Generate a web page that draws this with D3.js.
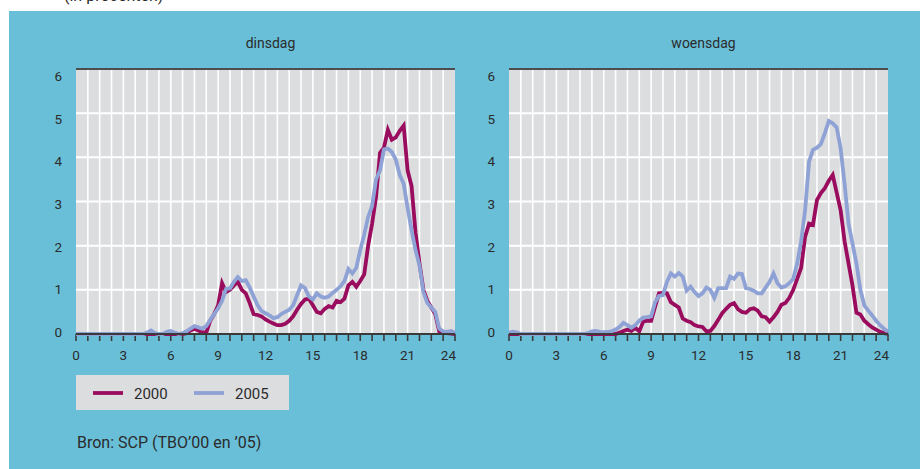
<!DOCTYPE html>
<html><head><meta charset="utf-8">
<script src="https://cdn.jsdelivr.net/npm/d3@7"></script>
<style>body{margin:0;background:#fff}svg{display:block}text{font-family:Roboto,"Liberation Sans",sans-serif;fill:#2b2b2b}</style>
</head><body>
<script>
// quarter-hour slots from 0:00 to 24:00
const slots = d3.range(0, 97).map(i => i / 4);
const xTickLabels = ["0","3","6","9","12","15","18","21","24"];
const yTickLabels = ["0","1","2","3","4","5","6"];
const panels = ["dinsdag","woensdag"];
const seriesNames = ["2000","2005"];

const dinsdag2000 = [0,0,0,0,0,0,0,0,0,0,0,0,0,0,0,0,0,0,0,0,0,0,0,0,0,0,0,0,
 0.02,0.08,0.12,0.08,0.04,0.03,0.3,0.45,0.65,1.15,0.95,1.0,
 1.1,1.18,1.0,0.92,0.7,0.45,0.43,0.4,0.33,0.28,0.24,0.2,
 0.2,0.23,0.3,0.4,0.55,0.68,0.78,0.8,0.65,0.5,0.47,0.57,
 0.63,0.6,0.75,0.72,0.8,1.1,1.18,1.07,1.2,1.35,2.0,2.5,
 3.1,4.1,4.22,4.62,4.4,4.45,4.6,4.72,3.7,3.35,2.3,1.6,
 1.0,0.75,0.6,0.45,0.06,0.03,0.02,0.01,0];
const dinsdag2005 = [0,0,0,0,0,0,0,0,0,0,0,0,0,0,0,0,0,0,
 0.03,0.08,0.02,0,0,0.05,0.07,0.03,0,0.02,
 0.06,0.12,0.18,0.15,0.12,0.18,0.32,0.45,0.58,0.75,1.02,1.03,
 1.18,1.29,1.2,1.22,1.05,0.85,0.65,0.52,0.47,0.42,0.36,0.38,
 0.45,0.5,0.55,0.65,0.88,1.1,1.04,0.85,0.78,0.92,0.85,0.82,
 0.85,0.93,1.0,1.08,1.2,1.47,1.37,1.5,1.9,2.25,2.65,2.9,
 3.5,3.7,4.18,4.2,4.12,3.95,3.6,3.4,2.85,2.35,1.9,1.55,
 0.95,0.7,0.6,0.5,0.12,0.06,0.05,0.07,0.03];
const woensdag2000 = [0,0,0,0,0,0,0,0,0,0,0,0,0,0,0,0,0,0,0,0,0,0,0,0,0,0,0,0,
 0.03,0.07,0.1,0.07,0.14,0.06,0.28,0.3,0.3,0.62,0.92,0.93,
 0.92,0.72,0.66,0.6,0.35,0.3,0.27,0.2,0.17,0.16,0.06,0.07,
 0.18,0.32,0.47,0.57,0.66,0.7,0.56,0.5,0.48,0.56,0.58,0.53,
 0.4,0.38,0.28,0.38,0.5,0.66,0.7,0.82,1.0,1.25,1.5,2.2,
 2.5,2.47,3.03,3.19,3.3,3.47,3.6,3.2,2.8,2.1,1.6,1.1,
 0.48,0.44,0.3,0.22,0.15,0.1,0.05,0.02,0];
const woensdag2005 = [0.03,0.05,0.04,0,0,0,0,0,0,0,0,0,0,0,0,0,0,0,0,0,
 0.02,0.06,0.07,0.05,0.04,0.05,0.06,0.1,
 0.16,0.25,0.2,0.14,0.2,0.3,0.37,0.38,0.4,0.72,0.86,0.88,
 1.18,1.37,1.3,1.38,1.3,0.98,1.07,0.95,0.86,0.92,1.05,1.0,
 0.82,1.04,1.04,1.04,1.3,1.25,1.37,1.36,1.04,1.02,0.98,0.92,
 0.92,1.05,1.18,1.37,1.15,1.05,1.08,1.15,1.25,1.6,2.1,2.8,
 3.9,4.17,4.22,4.3,4.55,4.82,4.77,4.68,4.2,3.4,2.5,2.05,
 1.6,1.0,0.65,0.53,0.42,0.3,0.2,0.12,0.05];

const panelData = [[dinsdag2000, dinsdag2005],[woensdag2000, woensdag2005]];
const colors = ["#990c5e","#8fa2d5"];

const svg = d3.select("body").append("svg").attr("width",920).attr("height",469);
svg.append("text").attr("x",64).attr("y",1).attr("font-size",16).text("(in procenten)");
svg.append("rect").attr("x",9).attr("y",11).attr("width",911).attr("height",458).attr("fill","#69bfd8");

const plotTop = 69, plotBottom = 334, pw = 379;
const lefts = [76, 509];
const y = d3.scaleLinear().domain([0,6]).range([plotBottom, plotTop]);
const yLab = d3.scaleLinear().domain([0,6]).range([332, 76]);

panels.forEach((name, p) => {
  const x = d3.scaleLinear().domain([0,24]).range([lefts[p], lefts[p]+pw]);
  const g = svg.append("g");
  g.append("rect").attr("x",x(0)).attr("y",plotTop).attr("width",pw).attr("height",plotBottom-plotTop).attr("fill","#dcdddf");
  const minor = d3.range(0, 33).map(i => i*0.75);
  g.selectAll(".vg").data(minor.slice(1,-1)).join("line")
    .attr("x1",d=>x(d)).attr("x2",d=>x(d)).attr("y1",plotTop).attr("y2",plotBottom)
    .attr("stroke","#fff").attr("stroke-width",1.6);
  g.selectAll(".hg").data([1,2,3,4,5]).join("line")
    .attr("x1",x(0)).attr("x2",x(24)).attr("y1",d=>y(d)).attr("y2",d=>y(d))
    .attr("stroke","#fff").attr("stroke-width",2);
  g.append("line").attr("x1",x(0)).attr("x2",x(24)).attr("y1",plotTop).attr("y2",plotTop)
    .attr("stroke","#4d4d4d").attr("stroke-width",2);
  g.selectAll(".tk").data(minor).join("line")
    .attr("x1",d=>x(d)).attr("x2",d=>x(d)).attr("y1",plotBottom).attr("y2",plotBottom+7)
    .attr("stroke","#3a3a3a").attr("stroke-width",1.6);
  g.selectAll(".xl").data(xTickLabels).join("text")
    .attr("x",(d,i)=> i===8 ? x(+d)+1 : x(+d))
    .attr("y",360).attr("font-size",13.5)
    .attr("text-anchor",(d,i)=> i===8 ? "end" : "middle").text(d=>d);
  g.selectAll(".yl").data(yTickLabels).join("text")
    .attr("x",x(0)-14).attr("y",d=>yLab(+d)+5).attr("font-size",13.5)
    .attr("text-anchor","end").text(d=>d);
  g.append("text").attr("x",x(12)+5).attr("y",48).attr("font-size",14)
    .attr("text-anchor","middle").text(name);
  const line = d3.line().x((d,i)=>x(slots[i])).y(d=>y(d)).curve(d3.curveLinear);
  panelData[p].forEach((vals, s) => {
    g.append("path").datum(vals).attr("d",line).attr("fill","none")
      .attr("stroke",colors[s]).attr("stroke-width",3.8).attr("stroke-linejoin","miter");
  });
  g.append("line").attr("x1",x(0)).attr("x2",x(24)).attr("y1",plotBottom).attr("y2",plotBottom)
    .attr("stroke","#3a3a3a").attr("stroke-width",2);
});

// legend
const lg = svg.append("g");
lg.append("rect").attr("x",76).attr("y",375).attr("width",213).attr("height",35).attr("fill","#dcdddf");
const lx = [93, 194];
seriesNames.forEach((n,i)=>{
  lg.append("line").attr("x1",lx[i]).attr("x2",lx[i]+30).attr("y1",393).attr("y2",393)
    .attr("stroke",colors[i]).attr("stroke-width",3.8);
  lg.append("text").attr("x",lx[i]+41).attr("y",398.5).attr("font-size",15).text(n);
});
svg.append("text").attr("x",77).attr("y",448).attr("font-size",16).text("Bron: SCP (TBO’00 en ’05)");
</script>
</body></html>
